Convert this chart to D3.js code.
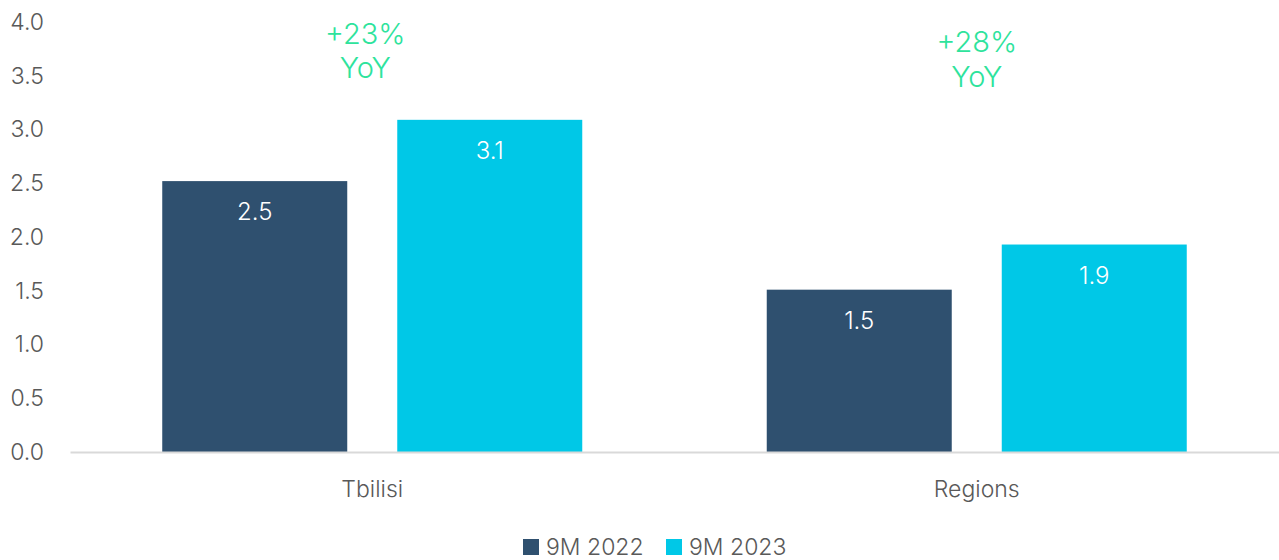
<!DOCTYPE html>
<html><head><meta charset="utf-8">
<script src="https://cdn.jsdelivr.net/npm/d3@7"></script>
<style>body{margin:0;background:#fff}svg{display:block;font-family:Inter,"Noto Sans",sans-serif;font-weight:300}</style>
</head><body><svg id="c" width="1279" height="560"></svg>
<script>
const categories = ["Tbilisi", "Regions"];
const seriesNames = ["9M 2022", "9M 2023"];
const values2022 = [2.52, 1.51];
const values2023 = [3.09, 1.93];
const yTicks = [0, 0.5, 1.0, 1.5, 2.0, 2.5, 3.0, 3.5, 4.0];
const yoyLabels = ["+23%", "+28%"];
const yoyLevels = [3.8, 3.72];
const colors = ["#2f506f", "#00c8e7"];
const FONT = "Inter,'Noto Sans',sans-serif";

const svg = d3.select("#c");
const x0 = d3.scaleBand().domain(categories).range([70, 1279]).paddingInner(0.3052).paddingOuter(0.1526);
const x1 = d3.scaleBand().domain(seriesNames).range([0, x0.bandwidth()]).paddingInner(0.2128).paddingOuter(0);
const y = d3.scaleLinear().domain([0, 4]).range([452, 22]);

// y axis labels
const yAxis = d3.axisLeft(y).tickValues(yTicks).tickFormat(d3.format(".1f")).tickSize(0).tickPadding(0);
const ga = svg.append("g").attr("transform", "translate(44,0)").call(yAxis);
ga.select(".domain").remove();
ga.selectAll("text").attr("font-size", 23).attr("fill", "#595959").attr("font-family", FONT).attr("font-weight", 300);

// bars
const rows = categories.map((c, i) => ({cat: c, vals: [values2022[i], values2023[i]]}));
const groups = svg.selectAll("g.grp").data(rows).join("g").attr("class", "grp")
  .attr("transform", d => `translate(${x0(d.cat)},0)`);
groups.selectAll("rect").data(d => d.vals.map((v, j) => ({s: seriesNames[j], v, j})))
  .join("rect")
  .attr("x", d => x1(d.s)).attr("width", x1.bandwidth())
  .attr("y", d => y(d.v)).attr("height", d => y(0) - y(d.v))
  .attr("fill", d => colors[d.j]);
groups.selectAll("text.val").data(d => d.vals.map((v, j) => ({s: seriesNames[j], v, j})))
  .join("text").attr("class", "val")
  .attr("x", d => x1(d.s) + x1.bandwidth() / 2)
  .attr("y", d => y(d.v) + 39)
  .attr("text-anchor", "middle").attr("font-size", 24).attr("fill", "#fff")
  .text(d => d3.format(".1f")(d.v));

// x axis
const xAxis = d3.axisBottom(x0).tickSize(0).tickPadding(0);
const gx = svg.append("g").attr("transform", "translate(0,452)").call(xAxis);
gx.select(".domain").attr("stroke", "#d9d9d9").attr("stroke-width", 2);
gx.selectAll("text").attr("dy", 0).attr("y", 45).attr("font-size", 23).attr("fill", "#595959")
  .attr("font-family", FONT).attr("font-weight", 300);

// YoY annotations
categories.forEach((c, i) => {
  const cx = x0(c) + x0.bandwidth() / 2 - (i === 0 ? 7 : 0);
  const t = svg.append("text").attr("text-anchor", "middle").attr("font-size", 29).attr("fill", "#2ee39c");
  t.append("tspan").attr("x", cx).attr("y", y(yoyLevels[i])).text(yoyLabels[i]);
  t.append("tspan").attr("x", cx).attr("dy", 34.5).text("YoY");
});

// legend
const leg = svg.append("g").attr("transform", "translate(523,539)");
const lx = [0, 143];
seriesNames.forEach((s, j) => {
  leg.append("rect").attr("x", lx[j]).attr("y", 0).attr("width", 16).attr("height", 16).attr("fill", colors[j]);
  leg.append("text").attr("x", lx[j] + 23).attr("y", 16).attr("font-size", 23).attr("fill", "#595959").text(s);
});
</script></body></html>
